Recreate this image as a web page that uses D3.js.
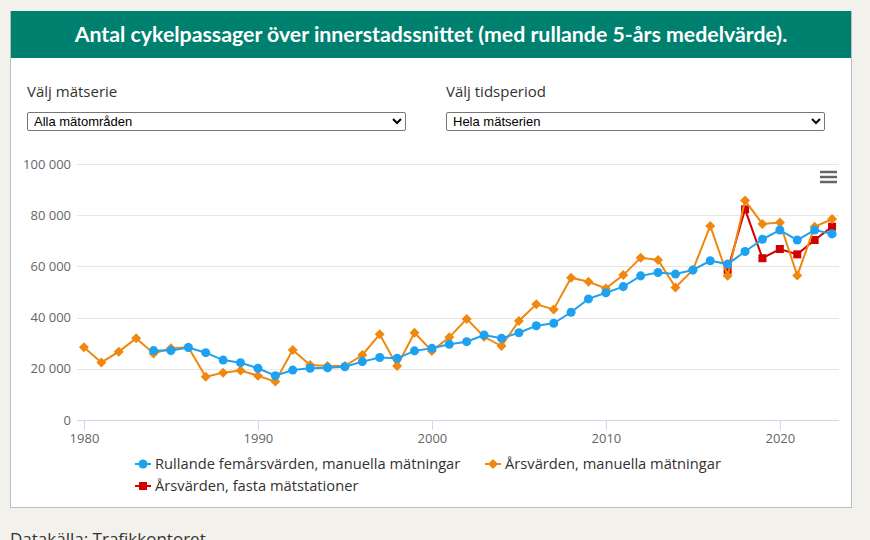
<!DOCTYPE html>
<html>
<head>
<meta charset="utf-8">
<script src="https://cdn.jsdelivr.net/npm/d3@7"></script>
<style>
body { margin: 0; background: #f2f1ec; font-family: "Open Sans", sans-serif; }
#page { position: relative; width: 870px; height: 540px; overflow: hidden; }
#card { position: absolute; left: 10px; top: 11px; width: 840px; height: 496px; background: #fff; border: 1px solid #bdbdbd; border-top: none; }
#head { position: absolute; left: 0; top: 0; width: 840px; height: 47px; background: #00806f; color: #fff;
        font-family: Lato, sans-serif; font-weight: bold; font-size: 21.3px; text-align: center; line-height: 47px; }
.lbl { position: absolute; top: 70px; font-size: 15px; color: #333; }
select { position: absolute; top: 101px; width: 379px; height: 19px; font-family: "Liberation Sans", Arial, sans-serif; font-size: 13px;
         border: 1px solid #767676; border-radius: 2px; background: #fff; color: #000; padding: 0 0 0 2px; }
#src { position: absolute; left: 10px; top: 527px; font-size: 17px; color: #333; }
svg { position: absolute; left: 0; top: 0; }
</style>
</head>
<body>
<div id="page">
  <div id="card">
    <div id="head">Antal cykelpassager över innerstadssnittet (med rullande 5-års medelvärde).</div>
    <div class="lbl" style="left:16px">Välj mätserie</div>
    <select style="left:16px"><option>Alla mätområden</option></select>
    <div class="lbl" style="left:435px">Välj tidsperiod</div>
    <select style="left:435px"><option>Hela mätserien</option></select>
  </div>
  <div id="src">Datakälla: Trafikkontoret</div>
  <svg id="chart" width="870" height="540"></svg>
</div>
<script>
// years and values
var yearsManual = d3.range(1980, 2024);
var manualYearly = [28400, 22500, 26700, 31900, 26000, 28000, 28400, 16900, 18500, 19300,
                    17300, 15000, 27300, 21500, 21100, 21100, 25400, 33500, 21100, 34100,
                    27000, 32300, 39500, 32500, 28900, 38700, 45200, 43200, 55600, 54000,
                    51400, 56600, 63400, 62500, 51800, 58600, 75800, 56300, 85700, 76600,
                    77100, 56400, 75500, 78500];
var yearsRolling = d3.range(1984, 2024);
var rollingFive = [27100, 27100, 28300, 26300, 23400, 22400, 20200, 17300, 19500, 20200,
                   20400, 20800, 22800, 24400, 24100, 27000, 28000, 29600, 30600, 33200,
                   31900, 34100, 36800, 37800, 42100, 47300, 49700, 52100, 56300, 57600,
                   57000, 58600, 62200, 60900, 65800, 70600, 74200, 70300, 74200, 72700];
var yearsFixed = d3.range(2017, 2024);
var fixedYearly = [58600, 82300, 63200, 66800, 64700, 70300, 75500];
var yTicks = [0, 20000, 40000, 60000, 80000, 100000];
var xTicks = [1980, 1990, 2000, 2010, 2020];

var seriesNames = ["Rullande femårsvärden, manuella mätningar", "Årsvärden, manuella mätningar", "Årsvärden, fasta mätstationer"];
var colors = ["#1ea2f0", "#f0880f", "#d20000"];

var svg = d3.select("#chart");
var plotLeft = 77, plotRight = 839, plotTop = 164, plotBottom = 420;

var x = d3.scaleLinear().domain([1979.6, 2023.4]).range([plotLeft, plotRight]);
var y = d3.scaleLinear().domain([0, 100000]).range([plotBottom, plotTop]);
var fmt = d3.formatLocale({decimal: ",", thousands: "\u00a0", grouping: [3], currency: ["", ""]}).format(",d");

// gridlines
svg.append("g").selectAll("line").data(yTicks.slice(1)).join("line")
    .attr("x1", plotLeft).attr("x2", plotRight)
    .attr("y1", function(d) { return Math.round(y(d)) + 0.5; }).attr("y2", function(d) { return Math.round(y(d)) + 0.5; })
    .attr("stroke", "#e6e6e6").attr("stroke-width", 1);

// y labels
svg.append("g").selectAll("text").data(yTicks).join("text")
    .attr("x", 71).attr("y", function(d) { return y(d) + 4.5; })
    .attr("text-anchor", "end")
    .attr("font-size", "13px").attr("fill", "#666")
    .text(function(d) { return fmt(d); });

// x axis
var xAxis = d3.axisBottom(x).tickValues(xTicks).tickFormat(d3.format("d")).tickSize(10).tickPadding(4);
var gx = svg.append("g").attr("transform", "translate(0," + plotBottom + ")").call(xAxis);
gx.select(".domain").attr("stroke", "#ccd6eb").attr("d", "M" + plotLeft + ",0.5H" + plotRight);
gx.selectAll(".tick line").attr("stroke", "#ccd6eb");
gx.selectAll(".tick text").attr("fill", "#666").attr("font-size", "13px").attr("font-family", "Open Sans, sans-serif");

// highcharts-like marker: diamond is a square turned 45 degrees
function marker(kind) {
    if (kind == "circle") return { d: d3.symbol().type(d3.symbolCircle).size(64)(), rot: 0 };
    if (kind == "diamond") return { d: d3.symbol().type(d3.symbolSquare).size(50)(), rot: 45 };
    return { d: d3.symbol().type(d3.symbolSquare).size(64)(), rot: 0 };
}

function drawSeries(years, values, color, kind) {
    var pts = years.map(function(yr, i) { return [yr, values[i]]; });
    var line = d3.line().x(function(d) { return x(d[0]); }).y(function(d) { return y(d[1]); });
    var m = marker(kind);
    var g = svg.append("g");
    g.append("path").datum(pts).attr("d", line)
        .attr("fill", "none").attr("stroke", color).attr("stroke-width", 2);
    g.selectAll("path.m").data(pts).join("path").attr("class", "m")
        .attr("transform", function(d) { return "translate(" + x(d[0]) + "," + y(d[1]) + ") rotate(" + m.rot + ")"; })
        .attr("d", m.d)
        .attr("fill", color);
}

drawSeries(yearsFixed, fixedYearly, colors[2], "square");
drawSeries(yearsManual, manualYearly, colors[1], "diamond");
drawSeries(yearsRolling, rollingFive, colors[0], "circle");

// hamburger menu
svg.append("g").selectAll("line").data([0, 5, 10]).join("line")
    .attr("x1", 820).attr("x2", 837)
    .attr("y1", function(d) { return 172 + d; }).attr("y2", function(d) { return 172 + d; })
    .attr("stroke", "#666").attr("stroke-width", 2.5);

// legend
var legendPos = [[135, 464], [485, 464], [135, 486]];
var kinds = ["circle", "diamond", "square"];
var lg = svg.append("g").selectAll("g").data(seriesNames).join("g")
    .attr("transform", function(d, i) { return "translate(" + legendPos[i][0] + "," + legendPos[i][1] + ")"; });
lg.append("line").attr("x1", 0).attr("x2", 16).attr("stroke", function(d, i) { return colors[i]; }).attr("stroke-width", 2);
lg.append("path")
    .attr("transform", function(d, i) { return "translate(8,0) rotate(" + marker(kinds[i]).rot + ")"; })
    .attr("d", function(d, i) { return marker(kinds[i]).d; })
    .attr("fill", function(d, i) { return colors[i]; });
lg.append("text").attr("x", 20).attr("y", 5).attr("font-size", "14.7px").attr("fill", "#333")
    .text(function(d) { return d; });
</script>
</body>
</html>
